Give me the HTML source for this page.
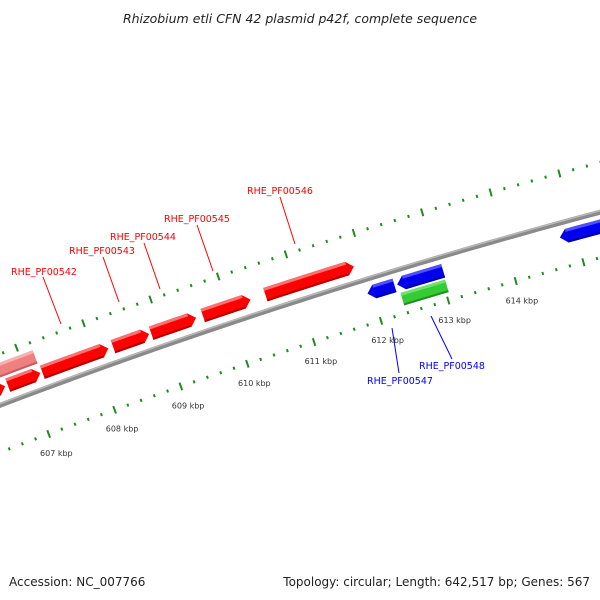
<!DOCTYPE html>
<html><head><meta charset="utf-8"><style>
html,body{margin:0;padding:0;background:#fff;}
svg{display:block;font-family:"DejaVu Sans","Liberation Sans",sans-serif;}
</style></head><body>
<svg id="chart" width="600" height="600" viewBox="0 0 600 600" xmlns="http://www.w3.org/2000/svg">
<rect width="600" height="600" fill="#fff"/>
<text x="300" y="23" text-anchor="middle" font-size="12.5" font-style="italic" fill="#222">Rhizobium etli CFN 42 plasmid p42f, complete sequence</text>
<g id="ticks"></g>
<g id="backbone"></g>
<g id="genes"></g>
<g id="labels">
<line x1="43" y1="277" x2="61" y2="324" stroke="#f00" stroke-width="1"/>
<text x="11" y="275" font-size="9.5" fill="#f00">RHE_PF00542</text>
<line x1="103" y1="257" x2="119" y2="302" stroke="#f00" stroke-width="1"/>
<text x="69" y="254" font-size="9.5" fill="#f00">RHE_PF00543</text>
<line x1="144" y1="243" x2="160" y2="289" stroke="#f00" stroke-width="1"/>
<text x="110" y="240" font-size="9.5" fill="#f00">RHE_PF00544</text>
<line x1="197" y1="225" x2="213" y2="271" stroke="#f00" stroke-width="1"/>
<text x="164" y="222" font-size="9.5" fill="#f00">RHE_PF00545</text>
<line x1="280" y1="197" x2="295" y2="244" stroke="#f00" stroke-width="1"/>
<text x="247" y="194" font-size="9.5" fill="#f00">RHE_PF00546</text>
<line x1="392" y1="328" x2="399" y2="373" stroke="#00f" stroke-width="1"/>
<text x="367" y="384" font-size="9.5" fill="#00f">RHE_PF00547</text>
<line x1="431" y1="316" x2="452" y2="359" stroke="#00f" stroke-width="1"/>
<text x="419" y="369" font-size="9.5" fill="#00f">RHE_PF00548</text>
</g>
<text x="9" y="586" font-size="12" fill="#222">Accession: NC_007766</text>
<text x="590" y="586" font-size="12" text-anchor="end" fill="#222">Topology: circular; Length: 642,517 bp; Genes: 567</text>
</svg>
<script>
// data (kbp)
const tickLabels = [607, 608, 609, 610, 611, 612, 613, 614];
const fwdStarts = [605.5, 606.70, 607.22, 608.28, 608.85, 609.62, 610.55];
const fwdEnds   = [606.66, 607.19, 608.21, 608.82, 609.52, 610.33, 611.86];
const fwd2Starts = [606.2];
const fwd2Ends   = [607.20];
const revStarts = [611.93, 612.37, 614.77];
const revEnds   = [612.33, 613.05, 616.5];
const otherStarts = [612.38];
const otherEnds   = [613.04];

const NS = "http://www.w3.org/2000/svg";
const CX = 2178, CY = 6146, R = 6140, PHI0 = -0.3453, S = 0.01152;
function ang(k){ return PHI0 + (k - 608) * S; }
function P(k, r){ const a = ang(k); return [CX + r * Math.sin(a), CY - r * Math.cos(a)]; }
function mk(tag, attrs, parent){ const e = document.createElementNS(NS, tag); for (const a in attrs) e.setAttribute(a, attrs[a]); parent.appendChild(e); return e; }
function arc(r, k1, k2){ let d = ""; const n = 40; for (let i = 0; i <= n; i++){ const p = P(k1 + (k2 - k1) * i / n, r); d += (i ? "L" : "M") + p[0].toFixed(2) + " " + p[1].toFixed(2); } return d; }

const tg = document.getElementById("ticks");
[6096, 6188].forEach(function(rr){
  for (let i = 0; i <= 60; i++){
    const k = 605 + i * 0.2;
    const major = Math.abs(k - Math.round(k)) < 1e-6;
    const h = major ? 4 : 1.5;
    const a = P(k, rr - h), b = P(k, rr + h);
    const l = mk("line", {x1: a[0], y1: a[1], x2: b[0], y2: b[1], stroke: "#1e8c1e", "stroke-width": 2}, tg);
    
    
  }
});
tickLabels.forEach(function(k){
  const p = P(k, 6077);
  const t = mk("text", {x: p[0] + 1, y: p[1] + 4, "font-size": 8, "text-anchor": "middle", fill: "#333"}, tg);
  t.textContent = k + " kbp";
  
  
});

const bg = document.getElementById("backbone");
const b1 = mk("path", {d: arc(R, 604, 618), fill: "none", stroke: "#8a8a8a", "stroke-width": 5}, bg);


const b2 = mk("path", {d: arc(R + 1.5, 604, 618), fill: "none", stroke: "#b8b8b8", "stroke-width": 1.5}, bg);



const gg = document.getElementById("genes");
function gene(k1, k2, r0, r1, dir, main, light, dark, name){
  const head = 0.1, n = 12;
  let pts = [];
  const rm = (r0 + r1) / 2;
  if (dir > 0){
    const kb = Math.max(k1, k2 - head);
    for (let i = 0; i <= n; i++) pts.push(P(k1 + (kb - k1) * i / n, r1));
    pts.push(P(k2, rm));
    for (let i = n; i >= 0; i--) pts.push(P(k1 + (kb - k1) * i / n, r0));
  } else if (dir < 0){
    const kb = Math.min(k2, k1 + head);
    pts.push(P(k1, rm));
    for (let i = 0; i <= n; i++) pts.push(P(kb + (k2 - kb) * i / n, r1));
    for (let i = n; i >= 0; i--) pts.push(P(kb + (k2 - kb) * i / n, r0));
  } else {
    for (let i = 0; i <= n; i++) pts.push(P(k1 + (k2 - k1) * i / n, r1));
    for (let i = n; i >= 0; i--) pts.push(P(k1 + (k2 - k1) * i / n, r0));
  }
  const g = mk("g", {}, gg);
  
  
  mk("polygon", {points: pts.map(p => p[0].toFixed(2) + "," + p[1].toFixed(2)).join(" "), fill: main}, g);
  const ka = dir < 0 ? Math.min(k2, k1 + head) : k1, kz = dir > 0 ? Math.max(k1, k2 - head) : k2;
  mk("path", {d: arc(r1 - 1.5, ka, kz), stroke: light, "stroke-width": 3, fill: "none"}, g);
  mk("path", {d: arc(r0 + 1, ka, kz), stroke: dark, "stroke-width": 2, fill: "none"}, g);
}
fwdStarts.forEach((s, i) => gene(s, fwdEnds[i], 6149, 6163, 1, "#ff0000", "#ff7070", "#b00000", "forward-gene"));
fwd2Starts.forEach((s, i) => gene(s, fwd2Ends[i], 6166, 6180, 0, "#f08080", "#f8b0b0", "#c06060", "forward-gene-track2"));
revStarts.forEach((s, i) => gene(s, revEnds[i], 6119, 6133, -1, "#0000ee", "#5050ff", "#0000a0", "reverse-gene"));
otherStarts.forEach((s, i) => gene(s, otherEnds[i], 6104, 6117, 0, "#33cc33", "#70e070", "#1f8f1f", "other-gene"));
</script>
</body></html>
